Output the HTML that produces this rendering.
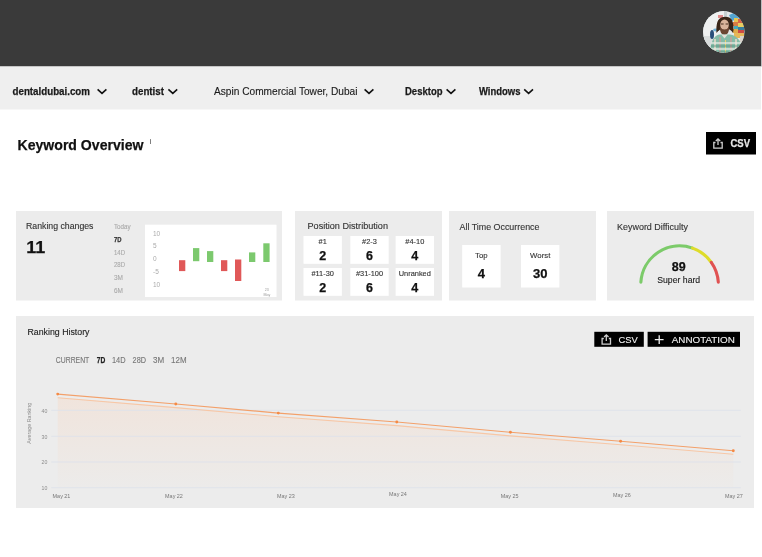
<!DOCTYPE html>
<html><head><meta charset="utf-8"><title>Keyword Overview</title>
<style>html,body{margin:0;padding:0;background:#fff;width:762px;height:557px;overflow:hidden}
svg{display:block;font-family:"Liberation Sans", sans-serif;will-change:transform}</style></head>
<body><svg width="762" height="557" viewBox="0 0 762 557">
<rect x="0" y="0" width="761" height="66.5" fill="#3a3a3a"/>
<rect x="761" y="0" width="1" height="66.5" fill="#bdbdbd"/>
<rect x="0" y="66.5" width="761" height="43" fill="#efefef"/>
<defs><clipPath id="av"><circle cx="723.8" cy="31.8" r="20.7"/></clipPath>
<linearGradient id="areaG" x1="0" y1="0" x2="0" y2="1"><stop offset="0" stop-color="#f0e4dc"/><stop offset="1" stop-color="#ecebea"/></linearGradient></defs>
<g clip-path="url(#av)">
<rect x="700" y="8" width="48" height="48" fill="#e4e8e8"/>
<rect x="700" y="8" width="24" height="48" fill="#eef0f0"/>
<rect x="700" y="36" width="14" height="20" fill="#d8dcdc"/>
<ellipse cx="712" cy="34.5" rx="2" ry="4.5" fill="#2a4f7a"/>
<ellipse cx="716" cy="30" rx="3" ry="1.4" fill="#6fb2d8"/>
<rect x="718" y="15" width="5" height="3" fill="#e08a8a"/>
<rect x="724" y="11" width="3" height="10" fill="#c8d0d0"/>
<g opacity="0.85"><path d="M729 15 L736 12 L740 18 L732 21Z" fill="#3a98cc"/>
<rect x="734" y="18" width="4" height="4" fill="#e8c038"/>
<rect x="738" y="19" width="5" height="4" fill="#d84a2a"/>
<rect x="733" y="22" width="5" height="4" fill="#d86a28"/>
<rect x="738" y="23" width="6" height="4" fill="#e8c848"/>
<rect x="734" y="26" width="4" height="3" fill="#2aa0b0"/>
<rect x="738" y="27" width="6" height="3" fill="#1a6a90"/>
<rect x="733" y="29" width="5" height="4" fill="#e0a030"/>
<rect x="738" y="30" width="6" height="4" fill="#c8302a"/>
<rect x="734" y="33" width="10" height="5" fill="#e8b040"/>
<rect x="740" y="36" width="6" height="6" fill="#d8d0c8"/></g>
<path d="M716.5 33 Q715.5 19 722 17.2 Q729 15.8 732 20 Q734.5 26 733 33 Q731 29 725 28 Q719 29 716.5 33Z" fill="#3a2618"/>
<ellipse cx="724.5" cy="25" rx="4.3" ry="5.6" fill="#d9b39a"/>
<path d="M719.8 26.5 Q719.6 34.5 724.5 34.8 Q729.4 34.5 729.2 26.5 Q727.5 29.5 724.5 29.5 Q721.5 29.5 719.8 26.5Z" fill="#6b4632"/>
<rect x="721" y="23.5" width="2.6" height="1" fill="#4a3020"/>
<rect x="725.6" y="23.5" width="2.6" height="1" fill="#4a3020"/>
<path d="M710 56 Q710 37 719 34.5 L730 34.5 Q742 36 744 56Z" fill="#86bca8"/>
<path d="M715 39 V56 M736 39 V56" stroke="#e8d8c8" stroke-width="1.6"/>
<path d="M720 37 V56 M731 37 V56" stroke="#d89a98" stroke-width="1.2"/>
<path d="M725.5 40 V56" stroke="#e8d070" stroke-width="1"/>
<path d="M711 43 H743 M711 49 H743" stroke="#e6ece4" stroke-width="1.4" opacity="0.9"/>
<path d="M711 46 H743 M711 52 H743" stroke="#4a8a78" stroke-width="0.9" opacity="0.8"/>
<path d="M721.5 34.8 L724.5 38.5 L727.5 34.8Z" fill="#e6e0d8"/>
</g>
<text x="12.5" y="95" font-size="11" font-weight="700" stroke="#1a1a1a" stroke-width="0.25" fill="#1a1a1a" textLength="77.5" lengthAdjust="spacingAndGlyphs">dentaldubai.com</text>
<path d="M97.6 89.3 L102.0 93.3 L106.39999999999999 89.3" fill="none" stroke="#111" stroke-width="1.6"/>
<text x="132" y="95" font-size="11" font-weight="700" stroke="#1a1a1a" stroke-width="0.25" fill="#1a1a1a" textLength="32" lengthAdjust="spacingAndGlyphs">dentist</text>
<path d="M168.4 89.3 L172.8 93.3 L177.20000000000002 89.3" fill="none" stroke="#111" stroke-width="1.6"/>
<text x="214" y="95" font-size="11" stroke="#1a1a1a" stroke-width="0.12" fill="#1a1a1a" textLength="143.5" lengthAdjust="spacingAndGlyphs">Aspin Commercial Tower, Dubai</text>
<path d="M364.6 89.3 L369.0 93.3 L373.40000000000003 89.3" fill="none" stroke="#111" stroke-width="1.6"/>
<text x="405" y="95" font-size="11" font-weight="700" stroke="#1a1a1a" stroke-width="0.25" fill="#1a1a1a" textLength="37.5" lengthAdjust="spacingAndGlyphs">Desktop</text>
<path d="M446.6 89.3 L451.0 93.3 L455.40000000000003 89.3" fill="none" stroke="#111" stroke-width="1.6"/>
<text x="479" y="95" font-size="11" font-weight="700" stroke="#1a1a1a" stroke-width="0.25" fill="#1a1a1a" textLength="41.5" lengthAdjust="spacingAndGlyphs">Windows</text>
<path d="M524.2 89.3 L528.6 93.3 L533.0 89.3" fill="none" stroke="#111" stroke-width="1.6"/>
<text x="17.5" y="150.2" font-size="15" font-weight="700" stroke="#111" stroke-width="0.25" fill="#111" textLength="126" lengthAdjust="spacingAndGlyphs">Keyword Overview</text>
<text x="149.8" y="143.8" font-size="7.5" stroke="#555" stroke-width="0.12" fill="#555">i</text>
<rect x="706" y="132" width="50" height="22.5" fill="#000"/>
<g transform="translate(713,138) scale(1.0)" fill="none" stroke="#cfcfcf" stroke-width="1.3"><path d="M2.5 4.5 H0.8 V10.2 H9.2 V4.5 H7.5"/><path d="M5 7 V0.8 M2.8 3 L5 0.8 L7.2 3"/></g>
<text x="730.5" y="147.2" font-size="10.5" font-weight="700" stroke="#e8e8e8" stroke-width="0.25" fill="#e8e8e8" textLength="19.5" lengthAdjust="spacingAndGlyphs">CSV</text>
<rect x="16" y="211" width="266" height="89.5" fill="#ececec"/>
<rect x="295" y="211" width="147" height="89.5" fill="#ececec"/>
<rect x="449" y="211" width="147" height="89.5" fill="#ececec"/>
<rect x="607" y="211" width="147" height="89.5" fill="#ececec"/>
<text x="26" y="229" font-size="9" stroke="#333" stroke-width="0.12" fill="#333" textLength="67.5" lengthAdjust="spacingAndGlyphs">Ranking changes</text>
<text x="26.3" y="252.8" font-size="16" font-weight="700" stroke="#111" stroke-width="0.25" fill="#111" textLength="19" lengthAdjust="spacingAndGlyphs">11</text>
<text x="114" y="229" font-size="7" stroke="#aaa" stroke-width="0.12" fill="#aaa" textLength="16.6" lengthAdjust="spacingAndGlyphs">Today</text>
<text x="114" y="241.7" font-size="7" font-weight="700" stroke="#333" stroke-width="0.25" fill="#333" textLength="7.5" lengthAdjust="spacingAndGlyphs">7D</text>
<text x="114" y="254.5" font-size="7" stroke="#aaa" stroke-width="0.12" fill="#aaa" textLength="11" lengthAdjust="spacingAndGlyphs">14D</text>
<text x="114" y="267.3" font-size="7" stroke="#aaa" stroke-width="0.12" fill="#aaa" textLength="11" lengthAdjust="spacingAndGlyphs">28D</text>
<text x="114" y="280" font-size="7" stroke="#aaa" stroke-width="0.12" fill="#aaa" textLength="9" lengthAdjust="spacingAndGlyphs">3M</text>
<text x="114" y="293" font-size="7" stroke="#aaa" stroke-width="0.12" fill="#aaa" textLength="9" lengthAdjust="spacingAndGlyphs">6M</text>
<rect x="145" y="224.7" width="131.5" height="72.3" fill="#fff"/>
<text x="153" y="235.7" font-size="6.5" fill="#aaa">10</text>
<text x="153" y="248.2" font-size="6.5" fill="#aaa">5</text>
<text x="153" y="261" font-size="6.5" fill="#aaa">0</text>
<text x="153" y="274" font-size="6.5" fill="#aaa">-5</text>
<text x="153" y="287" font-size="6.5" fill="#aaa">10</text>
<rect x="179" y="260.2" width="6.3" height="10.900000000000034" fill="#e05858"/>
<rect x="193" y="248.1" width="6.3" height="13.099999999999994" fill="#7cc96e"/>
<rect x="207" y="251.1" width="6.3" height="10.900000000000006" fill="#7cc96e"/>
<rect x="221" y="260.2" width="6.3" height="10.900000000000034" fill="#e05858"/>
<rect x="235" y="259.5" width="6.3" height="21.5" fill="#e05858"/>
<rect x="249" y="252.4" width="6.3" height="9.599999999999994" fill="#7cc96e"/>
<rect x="263.3" y="243.3" width="6.3" height="18.69999999999999" fill="#7cc96e"/>
<text x="266.8" y="291" font-size="3.6" fill="#999" text-anchor="middle">23</text>
<text x="266.8" y="295.5" font-size="3.6" fill="#999" text-anchor="middle">May</text>
<text x="307.5" y="228.8" font-size="9" stroke="#333" stroke-width="0.12" fill="#333" textLength="80.5" lengthAdjust="spacingAndGlyphs">Position Distribution</text>
<rect x="303.5" y="236" width="38.4" height="27.8" fill="#fff"/>
<text x="322.7" y="244" font-size="7.4" stroke="#333" stroke-width="0.12" fill="#333" text-anchor="middle">#1</text>
<text x="322.7" y="260" font-size="12.5" font-weight="700" stroke="#111" stroke-width="0.25" fill="#111" text-anchor="middle">2</text>
<rect x="350.3" y="236" width="38.4" height="27.8" fill="#fff"/>
<text x="369.5" y="244" font-size="7.4" stroke="#333" stroke-width="0.12" fill="#333" text-anchor="middle">#2-3</text>
<text x="369.5" y="260" font-size="12.5" font-weight="700" stroke="#111" stroke-width="0.25" fill="#111" text-anchor="middle">6</text>
<rect x="395.6" y="236" width="38.4" height="27.8" fill="#fff"/>
<text x="414.8" y="244" font-size="7.4" stroke="#333" stroke-width="0.12" fill="#333" text-anchor="middle">#4-10</text>
<text x="414.8" y="260" font-size="12.5" font-weight="700" stroke="#111" stroke-width="0.25" fill="#111" text-anchor="middle">4</text>
<rect x="303.5" y="268" width="38.4" height="27.8" fill="#fff"/>
<text x="322.7" y="276" font-size="7.4" stroke="#333" stroke-width="0.12" fill="#333" text-anchor="middle">#11-30</text>
<text x="322.7" y="292" font-size="12.5" font-weight="700" stroke="#111" stroke-width="0.25" fill="#111" text-anchor="middle">2</text>
<rect x="350.3" y="268" width="38.4" height="27.8" fill="#fff"/>
<text x="369.5" y="276" font-size="7.4" stroke="#333" stroke-width="0.12" fill="#333" text-anchor="middle">#31-100</text>
<text x="369.5" y="292" font-size="12.5" font-weight="700" stroke="#111" stroke-width="0.25" fill="#111" text-anchor="middle">6</text>
<rect x="395.6" y="268" width="38.4" height="27.8" fill="#fff"/>
<text x="414.8" y="276" font-size="7.4" stroke="#333" stroke-width="0.12" fill="#333" text-anchor="middle">Unranked</text>
<text x="414.8" y="292" font-size="12.5" font-weight="700" stroke="#111" stroke-width="0.25" fill="#111" text-anchor="middle">4</text>
<text x="459.5" y="229.8" font-size="9" stroke="#333" stroke-width="0.12" fill="#333" textLength="80" lengthAdjust="spacingAndGlyphs">All Time Occurrence</text>
<rect x="462.2" y="245" width="38.4" height="42.5" fill="#fff"/>
<text x="481.4" y="258.0" font-size="7.8" stroke="#333" stroke-width="0.12" fill="#333" text-anchor="middle">Top</text>
<text x="481.4" y="277.6" font-size="13" font-weight="700" stroke="#111" stroke-width="0.25" fill="#111" text-anchor="middle">4</text>
<rect x="521" y="245" width="38.4" height="42.5" fill="#fff"/>
<text x="540.2" y="258.0" font-size="7.8" stroke="#333" stroke-width="0.12" fill="#333" text-anchor="middle">Worst</text>
<text x="540.2" y="277.6" font-size="13" font-weight="700" stroke="#111" stroke-width="0.25" fill="#111" text-anchor="middle">30</text>
<text x="617" y="230" font-size="9" stroke="#333" stroke-width="0.12" fill="#333" textLength="71" lengthAdjust="spacingAndGlyphs">Keyword Difficulty</text>
<path d="M640.88 282.20 A38.8 38.8 0 0 1 692.55 248.13" fill="none" stroke="#7ccb6a" stroke-width="3.1" stroke-linecap="round"/>
<path d="M692.55 248.13 A38.8 38.8 0 0 1 711.31 262.33" fill="none" stroke="#dedc2a" stroke-width="3.1" stroke-linecap="round"/>
<path d="M711.31 262.33 A38.8 38.8 0 0 1 718.32 282.20" fill="none" stroke="#e05252" stroke-width="3.1" stroke-linecap="round"/>
<text x="678.7" y="270.7" font-size="12.5" font-weight="700" stroke="#111" stroke-width="0.25" fill="#111" text-anchor="middle">89</text>
<text x="678.7" y="282.9" font-size="9" stroke="#222" stroke-width="0.12" fill="#222" text-anchor="middle" textLength="43" lengthAdjust="spacingAndGlyphs">Super hard</text>
<rect x="16" y="316" width="738" height="192" fill="#ececec"/>
<text x="27.5" y="334.8" font-size="9" stroke="#222" stroke-width="0.12" fill="#222" textLength="62" lengthAdjust="spacingAndGlyphs">Ranking History</text>
<text x="55.8" y="363.4" font-size="8.8" stroke="#777" stroke-width="0.12" fill="#777" textLength="33.5" lengthAdjust="spacingAndGlyphs">CURRENT</text>
<text x="96.8" y="363.4" font-size="8.8" font-weight="700" stroke="#222" stroke-width="0.25" fill="#222" textLength="8.5" lengthAdjust="spacingAndGlyphs">7D</text>
<text x="112" y="363.4" font-size="8.8" stroke="#777" stroke-width="0.12" fill="#777" textLength="13.6" lengthAdjust="spacingAndGlyphs">14D</text>
<text x="132.6" y="363.4" font-size="8.8" stroke="#777" stroke-width="0.12" fill="#777" textLength="13.4" lengthAdjust="spacingAndGlyphs">28D</text>
<text x="153" y="363.4" font-size="8.8" stroke="#777" stroke-width="0.12" fill="#777" textLength="11.2" lengthAdjust="spacingAndGlyphs">3M</text>
<text x="171.1" y="363.4" font-size="8.8" stroke="#777" stroke-width="0.12" fill="#777" textLength="15.5" lengthAdjust="spacingAndGlyphs">12M</text>
<rect x="594.3" y="331.8" width="49.5" height="15" fill="#000"/>
<g transform="translate(601.3,334) scale(1.0)" fill="none" stroke="#cfcfcf" stroke-width="1.3"><path d="M2.5 4.5 H0.8 V10.2 H9.2 V4.5 H7.5"/><path d="M5 7 V0.8 M2.8 3 L5 0.8 L7.2 3"/></g>
<text x="618.5" y="343.4" font-size="9.8" stroke="#f0f0f0" stroke-width="0.12" fill="#f0f0f0" textLength="19.3" lengthAdjust="spacingAndGlyphs">CSV</text>
<rect x="647.6" y="331.8" width="92.4" height="15" fill="#000"/>
<path d="M659.2 335.3 V344.1 M654.8 339.7 H663.6" stroke="#f0f0f0" stroke-width="1.3"/>
<text x="671.8" y="343.4" font-size="9.8" stroke="#f0f0f0" stroke-width="0.12" fill="#f0f0f0" textLength="63" lengthAdjust="spacingAndGlyphs">ANNOTATION</text>
<text x="41.5" y="412.5" font-size="5.6" fill="#8c8c8c" textLength="5.8" lengthAdjust="spacingAndGlyphs">40</text>
<text x="41.5" y="438.5" font-size="5.6" fill="#8c8c8c" textLength="5.8" lengthAdjust="spacingAndGlyphs">30</text>
<text x="41.5" y="464.2" font-size="5.6" fill="#8c8c8c" textLength="5.8" lengthAdjust="spacingAndGlyphs">20</text>
<text x="41.5" y="489.9" font-size="5.6" fill="#8c8c8c" textLength="5.8" lengthAdjust="spacingAndGlyphs">10</text>
<text transform="translate(31.2,423.2) rotate(-90)" text-anchor="middle" font-size="6" fill="#8a8a8a" textLength="41" lengthAdjust="spacingAndGlyphs">Average Ranking</text>
<path d="M57.7 397.6 L175.8 407.5 L278.3 416.6 L396.8 425.5 L510.4 435.8 L620.6 444.7 L733.3 454.2 L733.3 487.7 L57.7 487.7 Z" fill="url(#areaG)"/>
<rect x="51.3" y="409.8" width="689.5" height="1" fill="#dde2ea" opacity="0.85"/>
<rect x="51.3" y="435.8" width="689.5" height="1" fill="#dde2ea" opacity="0.85"/>
<rect x="51.3" y="461.5" width="689.5" height="1" fill="#dde2ea" opacity="0.85"/>
<rect x="51.3" y="487.2" width="689.5" height="1" fill="#dde2ea" opacity="0.85"/>
<polyline points="57.7,397.70000000000005 175.8,407.6 278.3,416.70000000000005 396.8,425.6 510.4,435.90000000000003 620.6,444.8 733.3,454.3" fill="none" stroke="#f7c7a6" stroke-width="1.1"/>
<polyline points="57.7,394.1 175.8,404.0 278.3,413.1 396.8,422.0 510.4,432.3 620.6,441.2 733.3,450.7" fill="none" stroke="#f3a06a" stroke-width="1.15"/>
<circle cx="57.7" cy="394.1" r="1.45" fill="#f58a45"/>
<circle cx="175.8" cy="404.0" r="1.45" fill="#f58a45"/>
<circle cx="278.3" cy="413.1" r="1.45" fill="#f58a45"/>
<circle cx="396.8" cy="422.0" r="1.45" fill="#f58a45"/>
<circle cx="510.4" cy="432.3" r="1.45" fill="#f58a45"/>
<circle cx="620.6" cy="441.2" r="1.45" fill="#f58a45"/>
<circle cx="733.3" cy="450.7" r="1.45" fill="#f58a45"/>
<text x="61.5" y="498.2" font-size="5.8" fill="#777" text-anchor="middle" textLength="17.8" lengthAdjust="spacingAndGlyphs">May 21</text>
<text x="174" y="498.3" font-size="5.8" fill="#777" text-anchor="middle" textLength="17.8" lengthAdjust="spacingAndGlyphs">May 22</text>
<text x="285.8" y="498.3" font-size="5.8" fill="#777" text-anchor="middle" textLength="17.8" lengthAdjust="spacingAndGlyphs">May 23</text>
<text x="398" y="496.3" font-size="5.8" fill="#777" text-anchor="middle" textLength="17.8" lengthAdjust="spacingAndGlyphs">May 24</text>
<text x="509.7" y="498" font-size="5.8" fill="#777" text-anchor="middle" textLength="17.8" lengthAdjust="spacingAndGlyphs">May 25</text>
<text x="621.8" y="497.4" font-size="5.8" fill="#777" text-anchor="middle" textLength="17.8" lengthAdjust="spacingAndGlyphs">May 26</text>
<text x="733.9" y="497.9" font-size="5.8" fill="#777" text-anchor="middle" textLength="17.8" lengthAdjust="spacingAndGlyphs">May 27</text>
</svg></body></html>
